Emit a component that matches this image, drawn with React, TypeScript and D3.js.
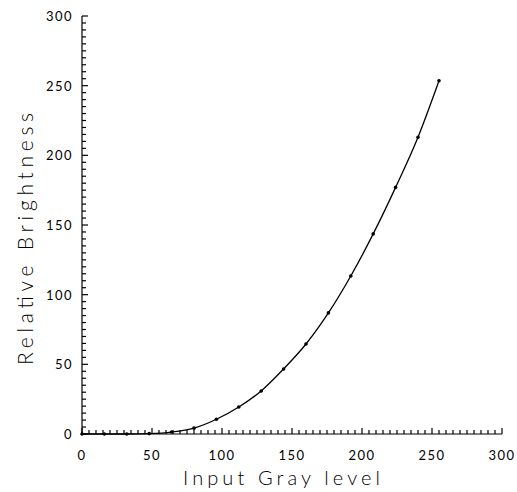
import React from "react";
import * as d3 from "d3";

const grayLevels = [0, 16, 32, 48, 64, 80, 96, 112, 128, 144, 160, 176, 192, 208, 224, 240, 255];
const brightness = [0, 0, 0, 0.3, 1.4, 4.2, 10.6, 19.4, 30.9, 46.7, 64.6, 86.9, 113.4, 143.6, 177, 213, 253.5];
const xTicks = [0, 50, 100, 150, 200, 250, 300];
const yTicks = [0, 50, 100, 150, 200, 250, 300];
const xTitle = "Input  Gray level";
const yTitle = "Relative  Brightness";

const W = 517, H = 492;
const left = 82, right = 502, top = 16, bottom = 434;

export default function App() {
  const x = d3.scaleLinear().domain([0, 300]).range([left, right]);
  const y = d3.scaleLinear().domain([0, 300]).range([bottom, top]);
  const pts = grayLevels.map((g, i) => [g, brightness[i]] as [number, number]);
  const line = d3.line<[number, number]>().x(d => x(d[0])).y(d => y(d[1])).curve(d3.curveMonotoneX);
  const minor = d3.range(0, 301, 5);
  const font = "Lato, 'DejaVu Sans', sans-serif";
  return (
    <svg width={W} height={H} style={{ position: "absolute", left: 0, top: 0, background: "#fff" }}>
      <g stroke="#000" strokeWidth={1.2} fill="none">
        <line x1={left} y1={bottom} x2={right} y2={bottom} />
        <line x1={left} y1={bottom} x2={left} y2={top} />
        {minor.map(v => (
          <line key={"xm" + v} x1={x(v)} x2={x(v)} y1={bottom} y2={bottom - (v % 50 === 0 ? 6 : 4)} />
        ))}
        {minor.map(v => (
          <line key={"ym" + v} y1={y(v)} y2={y(v)} x1={left} x2={left + (v % 50 === 0 ? 6 : 4)} />
        ))}
        <path d={line(pts) || ""} strokeWidth={1.3} />
      </g>
      {pts.map((p, i) => (
        <circle key={i} cx={x(p[0])} cy={y(p[1])} r={1.8} fill="#000" />
      ))}
      <g fontFamily={font} fontSize={13} fill="#000" style={{ letterSpacing: "1.5px" }}>
        {xTicks.map(v => (
          <text key={"xt" + v} x={x(v)} y={460} textAnchor="middle">{v}</text>
        ))}
        {yTicks.map(v => (
          <text key={"yt" + v} x={73} y={y(v) + 5} textAnchor="end">{v}</text>
        ))}
      </g>
      <text x={183} y={485} fontFamily={font} fontWeight={300} fontSize={20} textLength={197} lengthAdjust="spacing">{xTitle}</text>
      <text transform={`translate(33,365) rotate(-90)`} fontFamily={font} fontWeight={300} fontSize={21} textLength={252} lengthAdjust="spacing">{yTitle}</text>
    </svg>
  );
}
